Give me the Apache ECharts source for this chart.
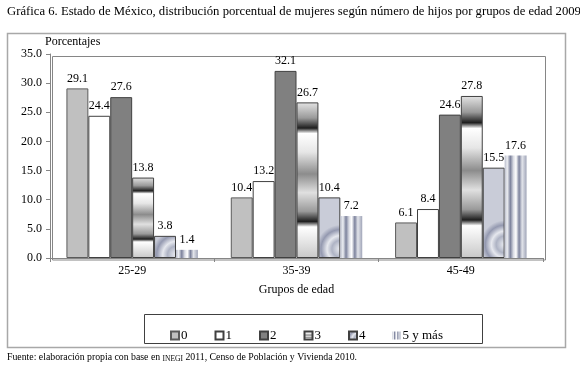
<!DOCTYPE html>
<html>
<head>
<meta charset="utf-8">
<script src="https://cdn.jsdelivr.net/npm/echarts@6/dist/echarts.min.js"></script>
<style>
  html, body { margin: 0; padding: 0; background: #fff; }
  #chart { width: 580px; height: 368px; }
</style>
</head>
<body>
<div id="chart"></div>
<script>
const categories = ['25-29', '35-39', '45-49']
const seriesNames = ['0', '1', '2', '3', '4', '5 y más']
const hijos0 = [29.1, 10.4, 6.1]
const hijos1 = [24.4, 13.2, 8.4]
const hijos2 = [27.6, 32.1, 24.6]
const hijos3 = [13.8, 26.7, 27.8]
const hijos4 = [3.8, 10.4, 15.5]
const hijos5 = [1.4, 7.2, 17.6]
const yTicks = { min: 0, max: 35, interval: 5 }

const FONT = '"Liberation Serif", "DejaVu Serif", serif'

// fills that imitate the excel textures
const bandFill = {
  type: 'linear', x: 0, y: 0, x2: 0, y2: 1,
  colorStops: [
    { offset: 0, color: '#e4e4e4' },
    { offset: 0.1, color: '#9a9a9a' },
    { offset: 0.165, color: '#1e1e1e' },
    { offset: 0.2, color: '#ffffff' },
    { offset: 0.32, color: '#e6e6e6' },
    { offset: 0.46, color: '#8c8c8c' },
    { offset: 0.58, color: '#e0e0e0' },
    { offset: 0.7, color: '#9a9a9a' },
    { offset: 0.765, color: '#1e1e1e' },
    { offset: 0.8, color: '#ffffff' },
    { offset: 1, color: '#c8c8c8' }
  ]
}
const ringFill = {
  type: 'radial', x: 1, y: 0.85, r: 1.1,
  colorStops: [
    { offset: 0, color: '#eef0f4' },
    { offset: 0.35, color: '#aeb3c4' },
    { offset: 0.55, color: '#e6e8ee' },
    { offset: 0.8, color: '#9499b0' },
    { offset: 1, color: '#c9ccd8' }
  ]
}
const stripeFill = {
  type: 'linear', x: 0, y: 0, x2: 1, y2: 0,
  colorStops: [
    { offset: 0, color: '#b8bccb' },
    { offset: 0.12, color: '#eceef2' },
    { offset: 0.26, color: '#7c829c' },
    { offset: 0.4, color: '#dadce4' },
    { offset: 0.52, color: '#ffffff' },
    { offset: 0.66, color: '#7c829c' },
    { offset: 0.8, color: '#e2e4ea' },
    { offset: 1, color: '#a0a5b8' }
  ]
}

const styles = [
  { color: '#c0c0c0', borderColor: '#5a5a5a', borderWidth: 1 },
  { color: '#ffffff', borderColor: '#404040', borderWidth: 1 },
  { color: '#808080', borderColor: '#404040', borderWidth: 1 },
  { color: bandFill, borderColor: '#404040', borderWidth: 1 },
  { color: ringFill, borderColor: '#404040', borderWidth: 1 },
  { color: stripeFill, borderWidth: 0 }
]
const values = [hijos0, hijos1, hijos2, hijos3, hijos4, hijos5]

const chart = echarts.init(document.getElementById('chart'), null, { renderer: 'canvas' })

const series = values.map((v, i) => ({
  name: seriesNames[i],
  type: 'bar',
  data: v,
  barGap: '0%',
  barCategoryGap: '20%',
  itemStyle: styles[i],
  label: {
    show: true,
    position: 'top',
    distance: 4,
    color: '#000',
    fontFamily: FONT,
    fontSize: 12,
    formatter: (p) => p.value.toFixed(1)
  }
}))

chart.setOption({
  animation: false,
  backgroundColor: '#fff',
  textStyle: { fontFamily: FONT },
  title: {
    text: 'Gráfica 6. Estado de México, distribución porcentual de mujeres según número de hijos por grupos de edad 2009',
    left: 2,
    top: 0,
    textStyle: { fontFamily: FONT, fontSize: 12.7, fontWeight: 'normal', color: '#000' }
  },
  grid: { left: 50, right: 37, top: 54, bottom: 110 },
  legend: {
    data: seriesNames,
    left: 165,
    top: 324,
    itemWidth: 8,
    itemHeight: 8,
    itemGap: 27,
    icon: 'rect',
    textStyle: { fontFamily: FONT, fontSize: 13, color: '#000', padding: [0, 0, 0, -3] }
  },
  xAxis: {
    type: 'category',
    data: categories,
    name: 'Grupos de edad',
    nameLocation: 'middle',
    nameGap: 26,
    nameTextStyle: { fontFamily: FONT, fontSize: 12, color: '#000' },
    axisLine: { lineStyle: { color: '#868686' } },
    axisTick: { show: true, length: 4, lineStyle: { color: '#868686' } },
    axisLabel: { fontFamily: FONT, fontSize: 12, color: '#000', margin: 7 }
  },
  yAxis: {
    type: 'value',
    min: yTicks.min,
    max: yTicks.max,
    interval: yTicks.interval,
    name: 'Porcentajes',
    nameLocation: 'end',
    nameGap: 6,
    nameTextStyle: { fontFamily: FONT, fontSize: 12, color: '#000', align: 'left', padding: [0, 0, 0, -5] },
    splitLine: { show: false },
    axisLine: { show: true, lineStyle: { color: '#868686' } },
    axisTick: { show: true, length: 4, lineStyle: { color: '#868686' } },
    axisLabel: {
      fontFamily: FONT, fontSize: 12, color: '#000', margin: 8,
      formatter: (v) => v.toFixed(1)
    }
  },
  graphic: [
    {
      type: 'rect', left: 5, top: 31, z: -1,
      shape: { width: 558, height: 314 },
      style: { fill: 'none', stroke: '#a8a8a8', lineWidth: 1.5 }
    },
    {
      type: 'rect', left: 50, top: 54, z: -1,
      shape: { width: 493, height: 203.5 },
      style: { fill: 'none', stroke: '#868686', lineWidth: 1 }
    },
    {
      type: 'rect', left: 142, top: 312, z: -1,
      shape: { width: 338, height: 29 },
      style: { fill: 'none', stroke: '#404040', lineWidth: 1 }
    },
    {
      type: 'text', left: 7, top: 352,
      style: {
        text: '{n|Fuente: elaboración propia con base en }{sc|INEGI}{n| 2011, Censo de Población y Vivienda 2010.}',
        fontFamily: FONT, fill: '#000',
        rich: {
          n: { fontFamily: FONT, fontSize: 9.8, lineHeight: 12 },
          sc: { fontFamily: FONT, fontSize: 7.5, lineHeight: 9, verticalAlign: 'bottom' }
        }
      }
    }
  ],
  series
})
</script>
</body>
</html>
